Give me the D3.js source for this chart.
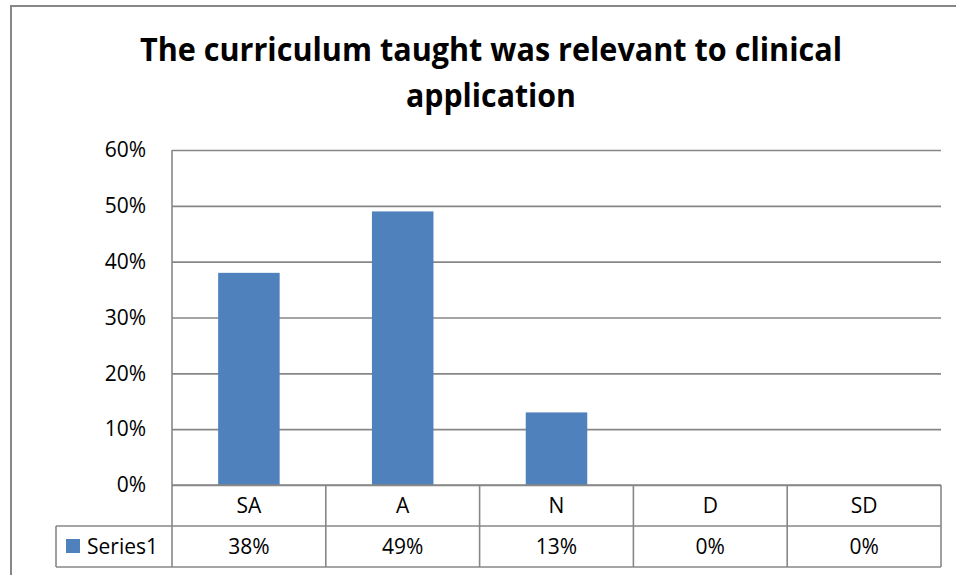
<!DOCTYPE html>
<html>
<head>
<meta charset="utf-8">
<script src="https://cdn.jsdelivr.net/npm/d3@7/dist/d3.min.js"></script>
<style>
  html, body { margin: 0; padding: 0; background: #fff; }
  svg { display: block; }
  text { font-family: "Open Sans", "DejaVu Sans", sans-serif; fill: #000; }
</style>
</head>
<body>
<svg id="chart" width="956" height="575"></svg>
<script>
// Survey response categories and the share of respondents in each
const categories = ["SA", "A", "N", "D", "SD"];
const seriesName = "Series1";
const values = [0.38, 0.49, 0.13, 0.00, 0.00];
const yTicks = [0, 0.1, 0.2, 0.3, 0.4, 0.5, 0.6];
const titleLines = ["The curriculum taught was relevant to clinical", "application"];

(function drawChart() {
  const svg = d3.select("#chart");
  const W = 956, H = 575;
  const gridColor = "#878787";
  const barColor = "#4F81BD";
  const pct = d3.format(".0%");

  // Plot area
  const plotLeft = 172, plotRight = 941, plotTop = 150, plotBottom = 485;
  const rowH = 41;

  // Outer chart frame (runs off the right and bottom edge)
  svg.append("rect")
    .attr("x", 11).attr("y", 6)
    .attr("width", W).attr("height", H)
    .attr("fill", "none").attr("stroke", gridColor).attr("stroke-width", 2);

  // Title, two centred lines
  const titleY = [61, 107];
  const titleW = [702, 170];
  const title = svg.append("g");
  titleLines.forEach((t, i) => {
    title.append("text")
      .attr("x", 491).attr("y", titleY[i])
      .attr("text-anchor", "middle")
      .attr("font-size", 32).attr("font-weight", 700)
      .attr("textLength", titleW[i]).attr("lengthAdjust", "spacingAndGlyphs")
      .text(t);
  });

  const x = d3.scaleBand().domain(categories).range([plotLeft, plotRight]).paddingInner(0).paddingOuter(0);
  const y = d3.scaleLinear().domain([0, 0.6]).range([plotBottom, plotTop]);

  // Horizontal gridlines with percentage labels
  const yAxis = d3.axisLeft(y).tickValues(yTicks).tickFormat(pct).tickSize(-(plotRight - plotLeft)).tickPadding(26);
  const gy = svg.append("g").attr("transform", `translate(${plotLeft},0)`).call(yAxis);
  gy.select(".domain").remove();
  gy.selectAll(".tick line").attr("stroke", gridColor).attr("stroke-width", 1.6);
  gy.selectAll(".tick text").attr("font-size", 21).attr("fill", "#000")
    .attr("font-family", '"Open Sans", sans-serif');

  // Bars
  const barW = x.bandwidth() * 0.4;
  svg.append("g").selectAll("rect")
    .data(values.map((v, i) => ({ cat: categories[i], v })))
    .join("rect")
    .attr("x", d => x(d.cat) + (x.bandwidth() - barW) / 2)
    .attr("y", d => y(d.v))
    .attr("width", barW)
    .attr("height", d => y(0) - y(d.v))
    .attr("fill", barColor);

  // Data table under the axis
  const tbl = svg.append("g").attr("stroke", gridColor).attr("stroke-width", 1.6).attr("fill", "none");
  tbl.append("line").attr("x1", plotLeft).attr("x2", plotLeft).attr("y1", plotTop).attr("y2", plotBottom + 2 * rowH);
  tbl.append("line").attr("x1", plotLeft).attr("x2", plotRight).attr("y1", plotBottom).attr("y2", plotBottom);
  tbl.append("line").attr("x1", 56).attr("x2", plotRight).attr("y1", plotBottom + rowH).attr("y2", plotBottom + rowH);
  tbl.append("line").attr("x1", 56).attr("x2", plotRight).attr("y1", plotBottom + 2 * rowH).attr("y2", plotBottom + 2 * rowH);
  tbl.append("line").attr("x1", 56).attr("x2", 56).attr("y1", plotBottom + rowH).attr("y2", plotBottom + 2 * rowH);
  categories.forEach(c => {
    const xe = x(c) + x.bandwidth();
    tbl.append("line").attr("x1", xe).attr("x2", xe).attr("y1", plotBottom).attr("y2", plotBottom + 2 * rowH);
  });

  // Category header row
  svg.append("g").selectAll("text")
    .data(categories).join("text")
    .attr("x", d => x(d) + x.bandwidth() / 2)
    .attr("y", plotBottom + rowH / 2).attr("dy", "0.35em")
    .attr("text-anchor", "middle").attr("font-size", 21)
    .text(d => d);

  // Value row
  svg.append("g").selectAll("text")
    .data(values.map((v, i) => ({ cat: categories[i], v })))
    .join("text")
    .attr("x", d => x(d.cat) + x.bandwidth() / 2)
    .attr("y", plotBottom + rowH * 1.5).attr("dy", "0.35em")
    .attr("text-anchor", "middle").attr("font-size", 21)
    .text(d => pct(d.v));

  // Legend key in the table
  svg.append("rect").attr("x", 66).attr("y", plotBottom + rowH + 13)
    .attr("width", 14).attr("height", 14).attr("fill", barColor);
  svg.append("text").attr("x", 87).attr("y", plotBottom + rowH * 1.5).attr("dy", "0.35em")
    .attr("font-size", 21).text(seriesName);
})();
</script>
</body>
</html>
